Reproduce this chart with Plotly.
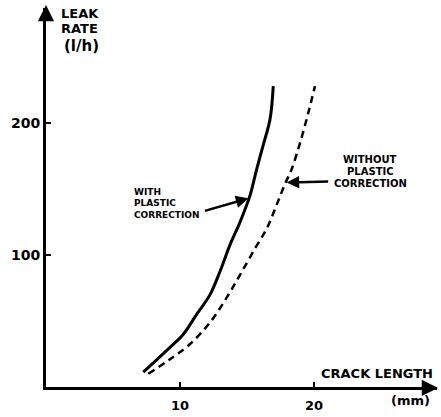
import plotly.graph_objects as go

# Data (crack length in mm, leak rate in l/h)
with_x = [7.26, 8.3, 9.25, 10.25, 11.24, 12.24, 12.99, 13.73, 14.48, 15.22, 15.72, 16.2, 16.72, 16.96]
with_q = [11.3, 21, 30, 40, 55, 70, 87.7, 107.7, 125, 145, 165, 183, 203, 228]

without_x = [7.63, 9.25, 10.75, 12.24, 13.48, 14.48, 15.6, 16.47, 17.21, 17.84, 18.33, 18.96, 19.58, 20.07]
without_q = [10, 21, 32.6, 48.9, 67.7, 85, 105, 120, 138, 154, 165, 185, 208, 228]

x_ticks = [10, 20]
y_ticks = [100, 200]

W, H = 441, 417
L, R, T, B = 46, 4, 8, 27
PW, PH = W - L - R, H - T - B
X_PER_MM = 13.4
Y_PER_UNIT = 1.33


def px(xp):
    return (xp - L) / PW


def py(yp):
    return (H - B - yp) / PH


FONT = "DejaVu Sans"

fig = go.Figure()
fig.add_trace(go.Scatter(x=with_x, y=with_q, mode="lines",
                         line=dict(color="black", width=3, shape="spline", smoothing=1.0),
                         showlegend=False, hoverinfo="skip"))
fig.add_trace(go.Scatter(x=without_x, y=without_q, mode="lines",
                         line=dict(color="black", width=2.5, dash="7px,5px", shape="spline", smoothing=1.0),
                         showlegend=False, hoverinfo="skip"))

ann = []
# axis arrowheads
ann.append(dict(x=px(438), y=py(391), xref="paper", yref="paper", ax=-14, ay=0,
                showarrow=True, arrowhead=2, arrowsize=1.3, arrowwidth=2.5, arrowcolor="black", text=""))
ann.append(dict(x=px(46), y=py(5), xref="paper", yref="paper", ax=0, ay=14,
                showarrow=True, arrowhead=2, arrowsize=1.3, arrowwidth=2.5, arrowcolor="black", text=""))

# axis titles
for txt, xp, yp, sz in [("LEAK", 59, 14, 13), ("RATE", 59, 29, 13), ("(l/h)", 62, 46, 15)]:
    ann.append(dict(x=px(xp), y=py(yp), xref="paper", yref="paper", text=txt, showarrow=False,
                    xanchor="left", yanchor="middle",
                    font=dict(family=FONT, size=sz, color="black", weight="bold")))
ann.append(dict(x=px(435), y=py(376), xref="paper", yref="paper", text="CRACK LENGTH", showarrow=False,
                xanchor="right", yanchor="middle",
                font=dict(family=FONT, size=13, color="black", weight="bold")))
ann.append(dict(x=px(432), y=py(404), xref="paper", yref="paper", text="(mm)", showarrow=False,
                xanchor="right", yanchor="middle",
                font=dict(family=FONT, size=13, color="black", weight="bold")))

# curve labels
for txt, yp in [("WITH", 193), ("PLASTIC", 205), ("CORRECTION", 217)]:
    ann.append(dict(x=px(132), y=py(yp), xref="paper", yref="paper", text=txt, showarrow=False,
                    xanchor="left", yanchor="middle",
                    font=dict(family=FONT, size=9, color="black", weight="bold")))
for txt, yp in [("WITHOUT", 161), ("PLASTIC", 173), ("CORRECTION", 185)]:
    ann.append(dict(x=px(370), y=py(yp), xref="paper", yref="paper", text=txt, showarrow=False,
                    xanchor="center", yanchor="middle",
                    font=dict(family=FONT, size=10, color="black", weight="bold")))

# pointer arrows
ann.append(dict(x=15.1, y=143, xref="x", yref="y", ax=-45, ay=13, text="",
                showarrow=True, arrowhead=2, arrowsize=1, arrowwidth=2.5, arrowcolor="black"))
ann.append(dict(x=17.96, y=155, xref="x", yref="y", ax=43, ay=-1, text="",
                showarrow=True, arrowhead=2, arrowsize=1, arrowwidth=2.5, arrowcolor="black"))

fig.update_layout(
    width=W, height=H,
    margin=dict(l=L, r=R, t=T, b=B, pad=0),
    paper_bgcolor="white", plot_bgcolor="white",
    showlegend=False,
    annotations=ann,
    xaxis=dict(range=[0, PW / X_PER_MM], showgrid=False, zeroline=False,
               showline=True, linecolor="black", linewidth=3,
               tickmode="array", tickvals=x_ticks, ticktext=[str(v) for v in x_ticks],
               ticks="inside", ticklen=5, tickwidth=2, tickcolor="black",
               tickfont=dict(family=FONT, size=13, color="black", weight="bold"),
               ticklabelstandoff=4, fixedrange=True),
    yaxis=dict(range=[0, PH / Y_PER_UNIT], showgrid=False, zeroline=False,
               showline=True, linecolor="black", linewidth=3,
               tickmode="array", tickvals=y_ticks, ticktext=[str(v) for v in y_ticks],
               ticks="inside", ticklen=5, tickwidth=2, tickcolor="black",
               tickfont=dict(family=FONT, size=14, color="black", weight="bold"),
               ticklabelstandoff=0, fixedrange=True),
)

fig.write_html("out.html", config={"displayModeBar": False},
               post_script="document.body.style.margin='0';document.body.style.overflow='hidden';")
